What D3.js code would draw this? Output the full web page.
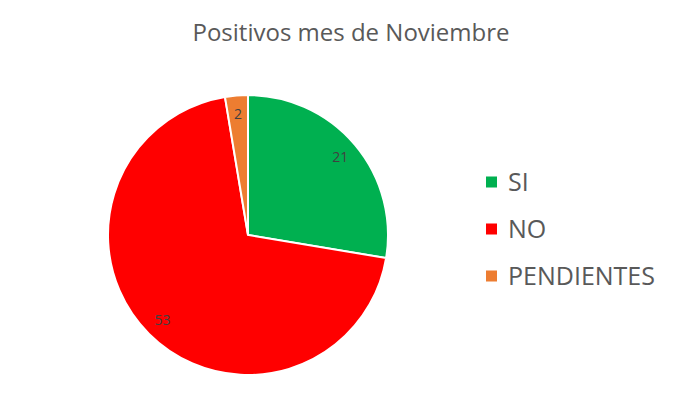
<!DOCTYPE html>
<html><head><meta charset="utf-8">
<script src="https://cdn.jsdelivr.net/npm/d3@7"></script>
<style>body{margin:0;background:#fff}</style>
</head><body>
<svg id="c" width="700" height="420"></svg>
<script>
const categories = ["SI", "NO", "PENDIENTES"];
const values = [21, 53, 2];
const colors = ["#00B050", "#FF0000", "#ED7D31"];
const title = "Positivos mes de Noviembre";

const svg = d3.select("#c");
const font = "'Open Sans', 'Liberation Sans', sans-serif";
svg.append("text").attr("x", 351).attr("y", 41).attr("text-anchor", "middle")
  .attr("font-family", font).attr("font-size", 24).attr("fill", "#595959").text(title);

const cx = 248, cy = 235, r = 140;
const data = categories.map((c, i) => ({c, v: values[i], col: colors[i]}));
const pie = d3.pie().value(d => d.v).sort(null);
const arc = d3.arc().innerRadius(0).outerRadius(r);
const labelArc = d3.arc().innerRadius(121).outerRadius(121);
const g = svg.append("g").attr("transform", `translate(${cx},${cy})`);
const arcs = pie(data);
g.selectAll("path").data(arcs).join("path").attr("d", arc)
  .attr("fill", d => d.data.col).attr("stroke", "#fff").attr("stroke-width", 2);
g.selectAll("text").data(arcs).join("text")
  .attr("transform", d => `translate(${labelArc.centroid(d)})`)
  .attr("text-anchor", "middle").attr("dy", "0.35em")
  .attr("font-family", font).attr("font-size", 14).attr("fill", "#404040")
  .text(d => d.data.v);

const leg = svg.append("g");
const ly = d3.scalePoint().domain(categories).range([182, 276]);
categories.forEach((c, i) => {
  leg.append("rect").attr("x", 486).attr("y", ly(c) - 5.5).attr("width", 11).attr("height", 11).attr("fill", colors[i]);
  leg.append("text").attr("x", 508).attr("y", ly(c) + 9)
    .attr("font-family", font).attr("font-size", 25).attr("fill", "#595959").text(c);
});
</script>
</body></html>
